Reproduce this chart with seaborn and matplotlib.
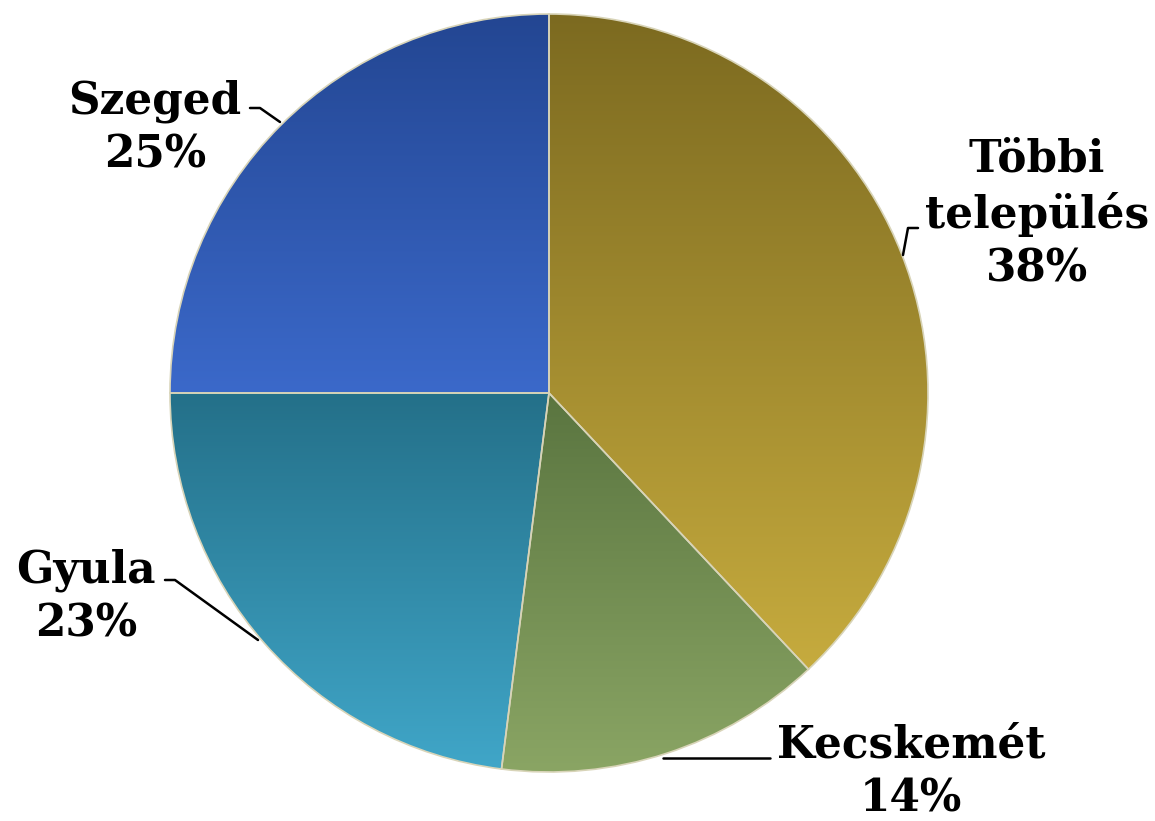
import numpy as np
import matplotlib
matplotlib.use('Agg')
import matplotlib.pyplot as plt
import seaborn as sns
from matplotlib.colors import LinearSegmentedColormap

# adatok
labels = ['Többi\ntelepülés', 'Kecskemét', 'Gyula', 'Szeged']
shares = [38, 14, 23, 25]
# (sötét felső, világos alsó) árnyalat szeletenként
colors_top = ['#7c6a20', '#5a7540', '#247089', '#234692']
colors_bottom = ['#c6ab3e', '#8aa564', '#40a6c8', '#3b69ca']

sns.set_theme(style='white')
plt.rcParams['font.family'] = ['DejaVu Serif']

W, H = 1155, 821
fig = plt.figure(figsize=(W / 100, H / 100), dpi=100)
ax = fig.add_axes([0, 0, 1, 1])
ax.set_aspect('equal')
ax.axis('off')

cx, cy, r = 549, H - 393, 379
wedges, _ = ax.pie(shares, startangle=90, counterclock=False,
                   center=(cx, cy), radius=r, colors=colors_bottom,
                   wedgeprops=dict(edgecolor='#d8d4b8', linewidth=1.2))
ax.set_xlim(0, W)
ax.set_ylim(0, H)

# színátmenet a szeleteken
for w, c0, c1 in zip(wedges, colors_top, colors_bottom):
    bb = w.get_path().get_extents(w.get_transform()).transformed(ax.transData.inverted())
    cmap = LinearSegmentedColormap.from_list('g', [c1, c0])
    grad = np.linspace(0, 1, 256).reshape(-1, 1)
    im = ax.imshow(grad, cmap=cmap, aspect='auto', origin='lower',
                   extent=[bb.x0, bb.x1, bb.y0, bb.y1], zorder=w.get_zorder() + 0.1)
    im.set_clip_path(w)
    w.set_facecolor('none')
    w.set_zorder(w.get_zorder() + 0.2)

ax.set_xlim(0, W)
ax.set_ylim(0, H)
ax.set_aspect('equal')

fs = 31.5
kw = dict(fontsize=fs, fontweight='bold', ha='center', va='center', color='black',
          linespacing=1.32)

# címkék
ax.text(1037, H - 214, labels[0] + '\n38%', **kw)
ax.text(911, H - 772, labels[1] + '\n14%', **kw)
ax.text(86, H - 597, labels[2] + '\n23%', **kw)
ax.text(155, H - 128, labels[3] + '\n25%', **kw)

# vezetővonalak
lk = dict(color='black', lw=1.8, zorder=10)
ax.plot([903, 908, 918], [H - 255, H - 228, H - 228], **lk)
ax.plot([663, 770], [H - 758, H - 758], **lk)
ax.plot([165, 175, 258], [H - 580, H - 580, H - 640], **lk)
ax.plot([250, 260, 280], [H - 108, H - 108, H - 122], **lk)

fig.savefig('out.png', dpi=100, facecolor='white')
